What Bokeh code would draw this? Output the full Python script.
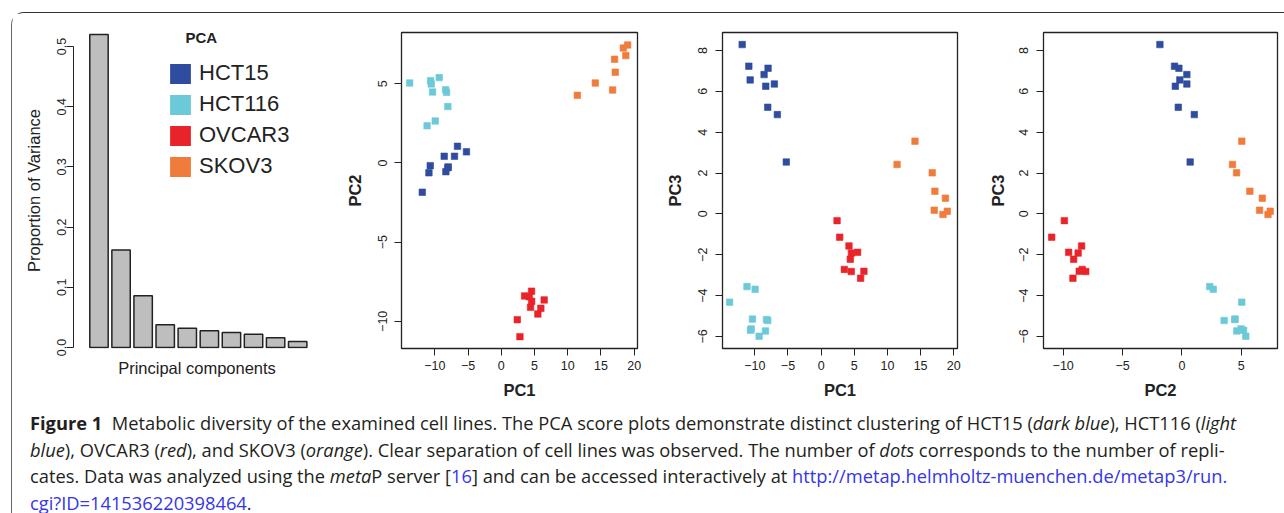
from bokeh.plotting import figure
from bokeh.models import (Range1d, FixedTicker, Legend, LegendItem, Label, Div,
                          PrintfTickFormatter)
from bokeh.layouts import row, column
from bokeh.embed import file_html
from bokeh.resources import INLINE

# ---------------- data ----------------
components = ["PC1", "PC2", "PC3", "PC4", "PC5", "PC6", "PC7", "PC8", "PC9", "PC10"]
variance = [0.520, 0.162, 0.086, 0.038, 0.032, 0.028, 0.025, 0.022, 0.016, 0.010]
variance_ticks = [0.0, 0.1, 0.2, 0.3, 0.4, 0.5]

cell_lines = ["HCT15", "HCT116", "OVCAR3", "SKOV3"]
colors = ["#2f4c9f", "#6cc9d8", "#e8242a", "#f07c3c"]

hct15_pc1 = [-11.9, -10.9, -8.0, -8.6, -10.7, -7.05, -8.35, -8.05, -6.6, -5.25]
hct15_pc2 = [-1.85, -0.62, -0.25, 0.42, -0.17, 0.42, -0.55, -0.30, 1.05, 0.70]
hct15_pc3 = [8.29, 7.23, 7.13, 6.82, 6.56, 6.36, 6.25, 5.22, 4.86, 2.54]

hct116_pc1 = [-13.8, -10.65, -10.55, -9.35, -10.35, -8.39, -8.24, -8.05, -11.18, -9.95]
hct116_pc2 = [5.05, 5.20, 4.99, 5.39, 4.48, 4.63, 4.46, 3.56, 2.35, 2.65]
hct116_pc3 = [-4.32, -5.70, -5.63, -5.99, -5.15, -5.73, -5.17, -5.22, -3.56, -3.69]

ovcar3_pc1 = [4.55, 3.50, 4.20, 4.57, 6.45, 4.40, 5.95, 5.50, 2.40, 2.80]
ovcar3_pc2 = [-8.10, -8.40, -8.45, -8.74, -8.65, -9.12, -9.18, -9.54, -9.90, -10.97]
ovcar3_pc3 = [-2.82, -2.72, -1.57, -1.92, -2.81, -2.22, -3.15, -1.88, -0.33, -1.14]

skov3_pc1 = [11.45, 14.15, 16.75, 17.15, 17.05, 18.37, 18.74, 19.02]
skov3_pc2 = [4.27, 5.05, 4.61, 5.73, 6.55, 7.26, 6.78, 7.45]
skov3_pc3 = [2.42, 3.56, 2.01, 1.11, 0.18, -0.03, 0.77, 0.13]

pc1_ticks = [-10, -5, 0, 5, 10, 15, 20]
pc2_ticks = [-10, -5, 0, 5]
pc3_ticks = [-6, -4, -2, 0, 2, 4, 6, 8]

scores = {
    "HCT15": {"PC1": hct15_pc1, "PC2": hct15_pc2, "PC3": hct15_pc3},
    "HCT116": {"PC1": hct116_pc1, "PC2": hct116_pc2, "PC3": hct116_pc3},
    "OVCAR3": {"PC1": ovcar3_pc1, "PC2": ovcar3_pc2, "PC3": ovcar3_pc3},
    "SKOV3": {"PC1": skov3_pc1, "PC2": skov3_pc2, "PC3": skov3_pc3},
}
tick_sets = {"PC1": pc1_ticks, "PC2": pc2_ticks, "PC3": pc3_ticks}

# ---------------- styling ----------------
FONT = "Liberation Sans"
H = 392
INK = "#222222"


def minus(ticks):
    return {t: ("\u2212" + str(abs(t))) for t in ticks if t < 0}


def style_common(p):
    p.grid.visible = False
    for ax in (p.xaxis[0], p.yaxis[0]):
        ax.major_tick_in = 0
        ax.major_tick_out = 7
        ax.minor_tick_in = 0
        ax.minor_tick_out = 0
        ax.major_tick_line_color = INK
        ax.major_label_text_font = FONT
        ax.major_label_text_font_size = "12.5px"
        ax.major_label_text_color = INK
        ax.axis_label_text_font = FONT
        ax.axis_label_text_font_size = "16.5px"
        ax.axis_label_text_color = INK


# ---------------- panel 1: scree plot ----------------
bar_x = [0.7 + 1.2 * i for i in range(len(variance))]  # R barplot layout (width 1, space 0.2)

p1 = figure(width=318, height=H, title=None, x_range=Range1d(-0.685, 12.74),
            y_range=Range1d(-0.00166, 0.5233),
            output_backend="svg", toolbar_location=None,
            min_border_left=61, min_border_right=10, min_border_top=19,
            min_border_bottom=57, outline_line_color=None)
style_common(p1)
p1.vbar(x=bar_x, top=variance, width=1.0, bottom=0,
        fill_color="#bebebe", line_color=INK, line_width=1.5)
p1.yaxis.ticker = FixedTicker(ticks=variance_ticks)
p1.yaxis.bounds = (0, 0.5)
p1.yaxis.formatter = PrintfTickFormatter(format="%.1f")
p1.yaxis.major_label_orientation = "vertical"
p1.yaxis.major_label_standoff = 0
p1.yaxis.axis_label = "Proportion of Variance"
p1.yaxis.axis_label_standoff = 12
p1.yaxis.axis_label_text_font_style = "normal"
p1.yaxis.axis_line_color = INK
p1.xaxis.ticker = FixedTicker(ticks=[])
p1.xaxis.axis_line_color = None
p1.xaxis.major_tick_out = 0
p1.xaxis.major_label_standoff = 0
p1.xaxis.axis_label = "Principal components"
p1.xaxis.axis_label_standoff = 10
p1.xaxis.axis_label_text_font_style = "normal"

nan = [float("nan")]  # legend-only renderers: nothing is drawn in the plot area
swatches = [p1.rect(x=nan, y=nan, width=1, height=1, fill_color=c, line_color=None)
            for c in colors]
legend = Legend(items=[LegendItem(label=n, renderers=[r]) for n, r in zip(cell_lines, swatches)],
                location=(94, 169), orientation="vertical",
                glyph_width=26, glyph_height=25, label_height=25, spacing=5,
                padding=0, margin=0, label_standoff=6,
                label_text_font=FONT, label_text_font_size="22px", label_text_color=INK,
                border_line_color=None, background_fill_alpha=0)
p1.add_layout(legend)
p1.add_layout(Label(x=5.4, y=0.5286, text="PCA", text_font=FONT, text_font_size="15px",
                    text_font_style="bold", text_baseline="top", text_color=INK))


# ---------------- score plots ----------------
def score_panel(width, xr, yr, mbl, mbr, xkey, ykey, lab_so, title_so):
    p = figure(width=width, height=H, title=None, x_range=Range1d(*xr), y_range=Range1d(*yr),
               output_backend="svg", toolbar_location=None,
               min_border_left=mbl, min_border_right=mbr, min_border_top=19,
               min_border_bottom=57, outline_line_color=INK, outline_line_width=1.3)
    style_common(p)
    for name, col in zip(cell_lines, colors):
        p.scatter(scores[name][xkey], scores[name][ykey], marker="square", size=6.5,
                  fill_color=col, line_color=col, line_alpha=0.6)
    p.xaxis.ticker = FixedTicker(ticks=tick_sets[xkey])
    p.yaxis.ticker = FixedTicker(ticks=tick_sets[ykey])
    p.xaxis.major_label_overrides = minus(tick_sets[xkey])
    p.yaxis.major_label_overrides = minus(tick_sets[ykey])
    p.xaxis.axis_line_color = None
    p.yaxis.axis_line_color = None
    p.xaxis.major_label_standoff = 5
    p.yaxis.major_label_standoff = lab_so
    p.yaxis.major_label_orientation = "vertical"
    p.xaxis.axis_label = xkey
    p.yaxis.axis_label = ykey
    p.xaxis.axis_label_standoff = 8
    p.yaxis.axis_label_standoff = title_so
    p.xaxis.axis_label_text_font_style = "bold"
    p.yaxis.axis_label_text_font_style = "bold"
    return p


p2 = score_panel(320, (-15.03, 20.5), (-11.72, 8.24), 71, 13, "PC1", "PC2", 7, 12)
p3 = score_panel(320, (-14.87, 20.56), (-6.59, 8.88), 72, 13, "PC1", "PC3", 8, 12)
p4 = score_panel(313, (-11.66, 8.06), (-6.59, 8.88), 73, 6, "PC2", "PC3", 8, 10)

# ---------------- caption ----------------
BLUE = "#3535ea"
caption = (
    '<div style="font-family:\'Open Sans\'; font-size:18.3px; line-height:26.5px; '
    'color:#231f20; white-space:nowrap; padding-left:13px; margin:0;">'
    '<b>Figure 1</b>&nbsp; Metabolic diversity of the examined cell lines. The PCA score plots '
    'demonstrate distinct clustering of HCT15 (<i>dark blue</i>), HCT116 (<i>light</i><br>'
    '<i>blue</i>), OVCAR3 (<i>red</i>), and SKOV3 (<i>orange</i>). Clear separation of cell lines '
    'was observed. The number of <i>dots</i> corresponds to the number of repli-<br>'
    'cates. Data was analyzed using the <i>meta</i>P server [<span style="color:%s">16</span>] '
    'and can be accessed interactively at '
    '<span style="color:%s">http://metap.helmholtz-muenchen.de/metap3/run.</span><br>'
    '<span style="color:%s">cgi?ID=141536220398464</span>.'
    '</div>' % (BLUE, BLUE, BLUE)
)
cap = Div(text=caption, width=1271, height=106)

layout = column(row(p1, p2, p3, p4, spacing=0), cap, spacing=0,
                margin=(12, 0, 0, 11),
                styles={"border-top": "1.3px solid #333333",
                        "border-left": "1px solid #666666",
                        "border-top-left-radius": "13px"})

open("out.html", "w").write(file_html(layout, INLINE))
